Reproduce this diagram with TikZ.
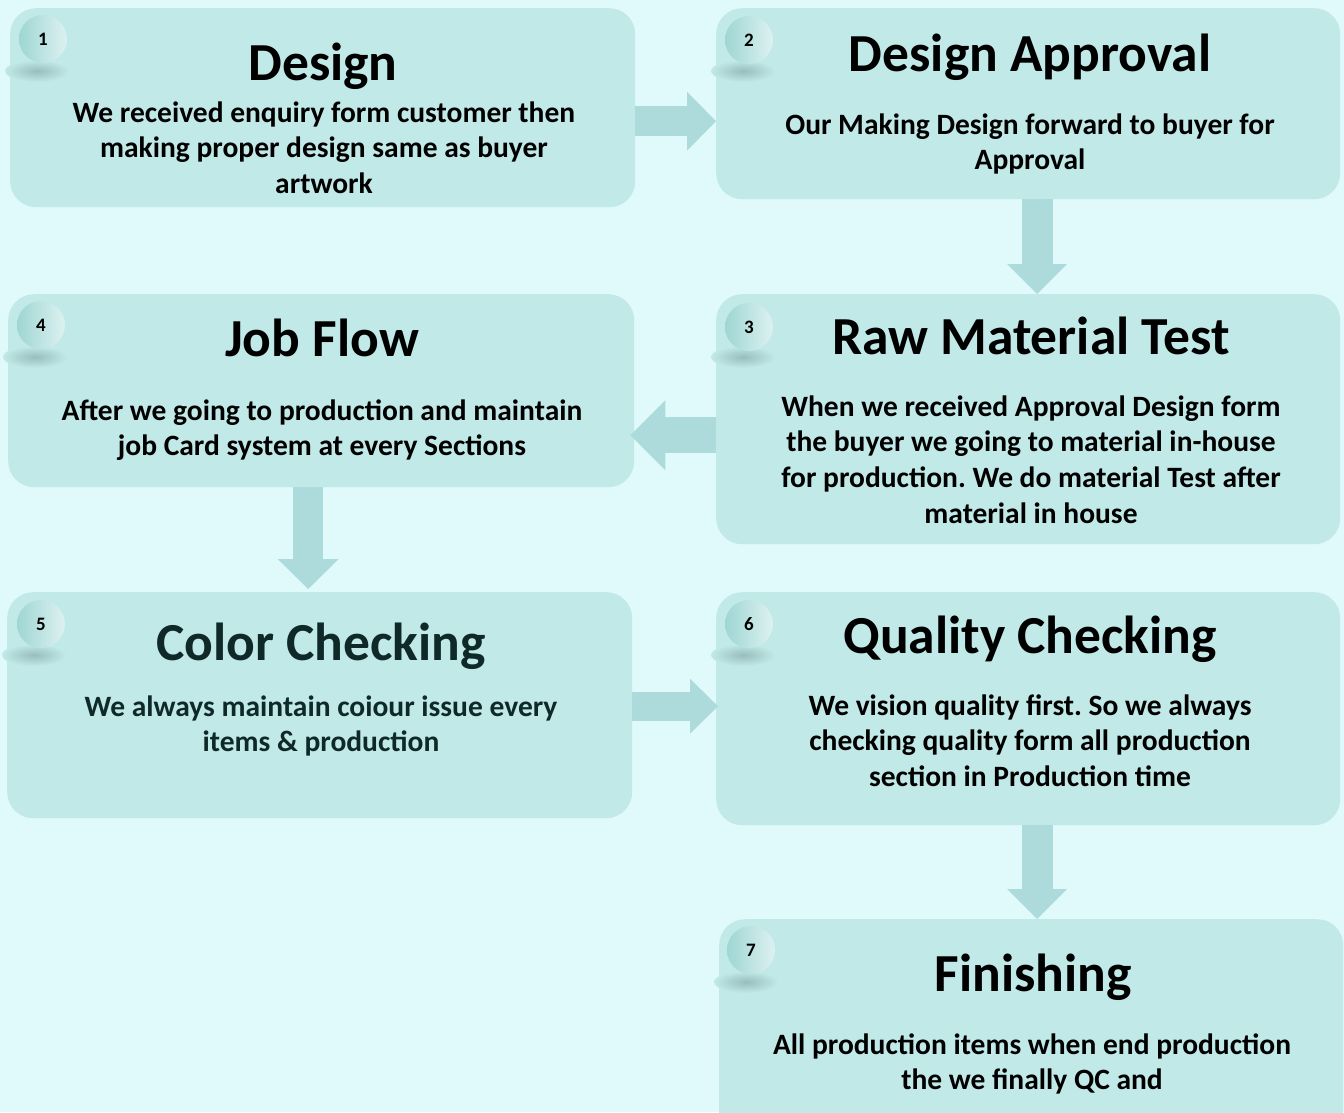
\documentclass[tikz,border=0pt]{standalone}
\usepackage{fontspec}
\setmainfont{Carlito}
\frenchspacing
\usetikzlibrary{arrows.meta}
\definecolor{bgc}{HTML}{E0F9FA}
\definecolor{boxc}{HTML}{C0E9E8}
\definecolor{arrc}{HTML}{ADDBDB}
\definecolor{cirl}{HTML}{9ED6D3}
\definecolor{cirr}{HTML}{DDF1F1}
\definecolor{shd}{HTML}{98BDBC}
\definecolor{darkteal}{HTML}{0E2928}
\begin{document}
\begin{tikzpicture}[x=1pt,y=-1pt,
  box/.style={fill=boxc, rounded corners=26pt, anchor=north west, inner sep=0pt},
  numc/.style={circle, minimum size=48pt, inner sep=0pt, left color=cirl, right color=cirr,
    font=\bfseries\fontsize{19}{22}\selectfont},
  ttl/.style={font=\bfseries\fontsize{53.5}{60}\selectfont, anchor=base, inner sep=0pt},
  bdy/.style={font=\bfseries\fontsize{29.5}{35.7}\selectfont, anchor=base, align=center, inner sep=0pt},
  blk/.style={draw=arrc, line width=#1},
]
\clip (0,0) rectangle (1344,1112);
\fill[bgc] (0,0) rectangle (1344,1112);

% boxes
\node[box, minimum width=625pt, minimum height=199pt] (b1) at (10,8) {};
\node[box, minimum width=624pt, minimum height=191pt] (b2) at (716,8) {};
\node[box, minimum width=624pt, minimum height=250pt] (b3) at (716,294) {};
\node[box, minimum width=626pt, minimum height=193pt] (b4) at (8,294) {};
\node[box, minimum width=625pt, minimum height=226pt] (b5) at (7,592) {};
\node[box, minimum width=624pt, minimum height=233pt] (b6) at (716,592) {};
\node[box, minimum width=624pt, minimum height=220pt] (b7) at (719,919) {};

% circle shadows
\foreach \b in {b1,b2,b3,b4,b5,b6,b7}{
  \shade[inner color=shd, outer color=boxc]
    ([xshift=27pt,yshift=-63pt]\b.north west) ellipse [x radius=32pt, y radius=11pt];
}

% number circles
\node[numc] (n1) at ([xshift=33pt,yshift=-31pt]b1.north west) {1};
\node[numc] (n2) at ([xshift=33pt,yshift=-32pt]b2.north west) {2};
\node[numc] (n3) at ([xshift=33pt,yshift=-33pt]b3.north west) {3};
\node[numc] (n4) at ([xshift=33pt,yshift=-31pt]b4.north west) {4};
\node[numc] (n5) at ([xshift=34pt,yshift=-32pt]b5.north west) {5};
\node[numc] (n6) at ([xshift=33pt,yshift=-32pt]b6.north west) {6};
\node[numc] (n7) at ([xshift=32pt,yshift=-31pt]b7.north west) {7};

% arrows
\coordinate (s12) at ([yshift=-13.5pt]b1.east);
\draw[blk=30pt, -{Triangle[width=59pt,length=29pt,line width=0pt]}] (s12) -- (s12 -| b2.west);
\coordinate (s23) at ([xshift=9pt]b2.south);
\draw[blk=31pt, -{Triangle[width=60pt,length=30pt,line width=0pt]}] (s23) -- (s23 |- b3.north);
\coordinate (s34) at ([yshift=-16pt]b3.west);
\draw[blk=36pt, -{Triangle[width=70pt,length=35pt,line width=0pt]}] (s34) -- ([xshift=-4pt]s34 -| b4.east);
\coordinate (s45) at ([xshift=-13pt]b4.south);
\draw[blk=30pt, -{Triangle[width=61pt,length=30pt,line width=0pt]}] (s45) -- ([yshift=3pt]s45 |- b5.north);
\coordinate (s56) at ([yshift=-1pt]b5.east);
\draw[blk=29pt, -{Triangle[width=55pt,length=28pt,line width=0pt]}] (s56) -- ([xshift=2pt]s56 -| b6.west);
\coordinate (s67) at ([xshift=9pt]b6.south);
\draw[blk=31pt, -{Triangle[width=60pt,length=30pt,line width=0pt]}] (s67) -- (s67 |- b7.north);

% titles
\node[ttl] (t1) at (323,80) {Design};
\node[ttl] (t2) at (1030,71) {Design Approval};
\node[ttl] (t3) at (1031,354) {Raw Material Test};
\node[ttl] (t4) at (322,356) {Job Flow};
\node[ttl, text=darkteal] (t5) at (321,660) {Color Checking};
\node[ttl] (t6) at (1030,653) {Quality Checking};
\node[ttl] (t7) at (1033,991) {Finishing};

% bodies (base anchor = baseline of last line)
\node[bdy] (d1) at (324,193.4) {We received enquiry form customer then\\making proper design same as buyer\\artwork};
\node[bdy] (d2) at (1030,169.7) {Our Making Design forward to buyer for\\Approval};
\node[bdy] (d3) at (1031,523.1) {When we received Approval Design form\\the buyer we going to material in-house\\for production. We do material Test after\\material in house};
\node[bdy] (d4) at (322,455.7) {After we going to production and maintain\\job Card system at every Sections};
\node[bdy, text=darkteal] (d5) at (321,751.7) {We always maintain coiour issue every\\items \& production};
\node[bdy] (d6) at (1030,786.4) {We vision quality first. So we always\\checking quality form all production\\section in Production time};
\node[bdy] (d7) at (1032,1089.7) {All production items when end production\\the we finally QC and};
\end{tikzpicture}
\end{document}
